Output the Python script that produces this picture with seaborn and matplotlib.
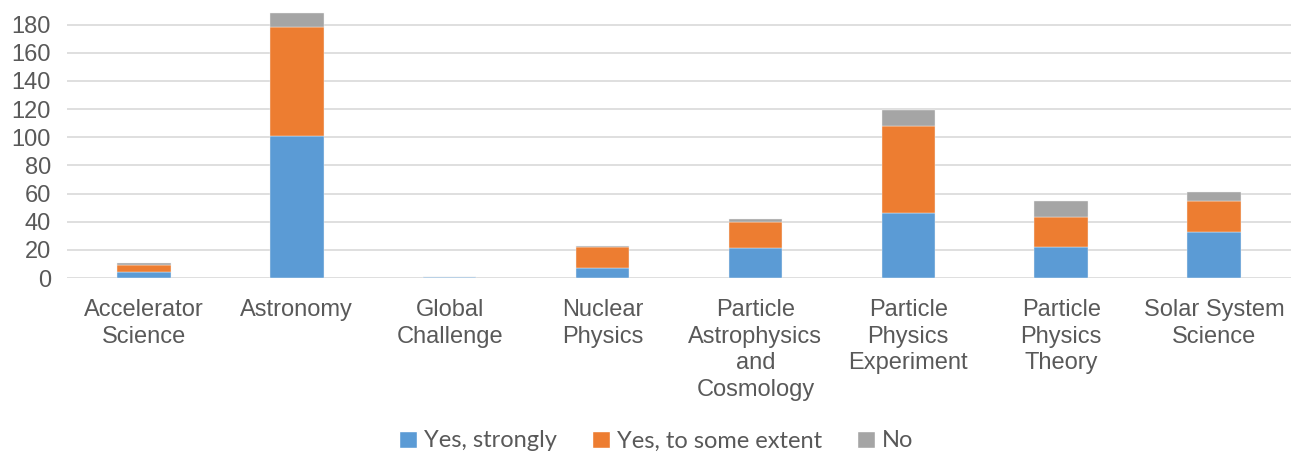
import pandas as pd
import seaborn as sns
from matplotlib import pyplot as plt
from matplotlib.patches import Patch

categories = ['Accelerator\nScience', 'Astronomy', 'Global\nChallenge', 'Nuclear\nPhysics',
              'Particle\nAstrophysics\nand\nCosmology', 'Particle\nPhysics\nExperiment',
              'Particle\nPhysics\nTheory', 'Solar System\nScience']
yes_strongly = [4, 101, 1, 7, 21, 46, 22, 33]
yes_some = [5, 77, 0, 15, 19, 62, 21, 22]
no = [2, 10, 0, 1, 2, 11, 12, 6]

series_names = ['Yes, strongly', 'Yes, to some extent', 'No']
colors = ['#5B9BD5', '#ED7D31', '#A5A5A5']

df = pd.DataFrame({'category': categories, 'strong': yes_strongly, 'some': yes_some, 'no': no})

sns.set_style("white")
plt.rcParams['font.family'] = ['Liberation Sans', 'DejaVu Sans']

fig = plt.figure(figsize=(12.97, 4.55), dpi=100)
ax = fig.add_axes([0.052, 0.389, 0.943, 0.588])

bottom = [0] * len(categories)
for col, color in zip(['strong', 'some', 'no'], colors):
    sns.barplot(data=df, x='category', y=col, color=color, saturation=1, width=0.35, bottom=bottom,
                edgecolor='#F2F2F2', linewidth=0.3, ax=ax, order=categories)
    bottom = [b + v for b, v in zip(bottom, df[col])]

ax.set_ylim(0, 190)
ax.set_xlim(-0.5, len(categories) - 0.5)
ax.set_yticks(range(0, 181, 20))
ax.yaxis.grid(True, color='#D9D9D9', linewidth=1.2)
ax.set_axisbelow(True)
for s in ax.spines.values():
    s.set_visible(False)
ax.set_xlabel('')
ax.set_ylabel('')
ax.tick_params(axis='both', length=0, labelsize=17, labelcolor='#595959')
ax.tick_params(axis='x', pad=15)
ax.tick_params(axis='y', pad=12)
for lab in ax.get_xticklabels():
    lab.set_linespacing(1.28)
    lab.set_verticalalignment('top')

handles = [Patch(facecolor=c, label=n) for c, n in zip(colors, series_names)]
fig.legend(handles=handles, loc='center', bbox_to_anchor=(0.506, 0.031), ncol=3, frameon=False,
           prop={'family': 'Lato', 'size': 17}, labelcolor='#595959', handlelength=0.75,
           handleheight=0.75, handletextpad=0.3, columnspacing=1.5)

plt.savefig('out.png', dpi=100)
plt.close()
